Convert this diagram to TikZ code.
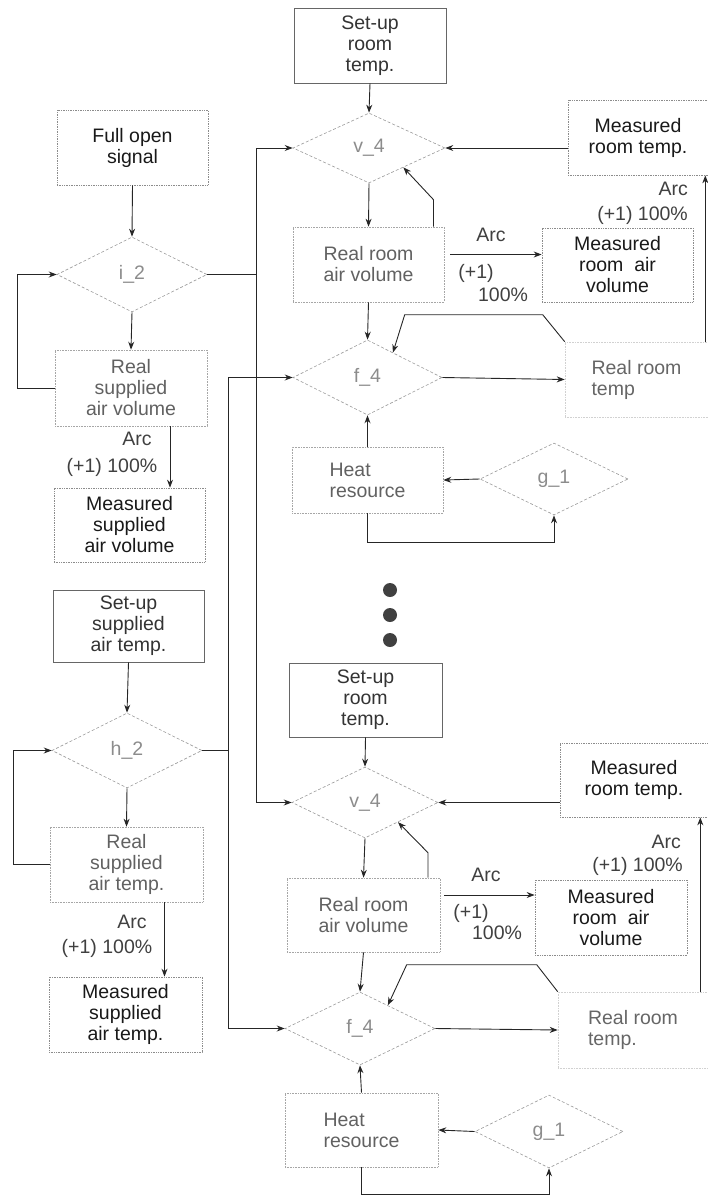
\documentclass[tikz,border=0pt]{standalone}
\usepackage{fontspec}
\setmainfont{Liberation Sans}
\usetikzlibrary{arrows.meta,shapes.geometric,calc}
\begin{document}
\begin{tikzpicture}[x=1pt,y=-1pt,
  every node/.style={font=\fontsize{19.5}{21}\selectfont, inner sep=0pt},
  boxS/.style={draw=black!60, line width=0.7pt, rectangle, align=center, text=black!80},
  boxD/.style={draw=black!45, line width=0.7pt, densely dotted, rectangle, align=center, text=black!90},
  boxR/.style={draw=black!35, line width=0.6pt, densely dotted, rectangle, align=center, text=black!62},
  boxF/.style={draw=black!18, line width=0.6pt, densely dotted, rectangle, text=black!60},
  dia/.style={diamond, draw=black!40, line width=0.6pt, densely dashed, text=black!45},
  lbl/.style={text=black!75},
  ln/.style={draw=black!85, line width=0.9pt},
  arr/.style={ln, -{Stealth[length=8pt,width=6pt]}}
]
\useasboundingbox (0,0) rectangle (708,1196);

% ---------- left column ----------
\node[boxD, minimum width=151pt, minimum height=75pt] (fullopen) at (132.5,147.5) {Full open\\signal};
\node[dia, minimum width=150pt, minimum height=75pt] (i2) at (132,274.5) {i\_2};
\node[boxR, minimum width=152pt, minimum height=76pt] (rsav) at (131,388) {Real\\supplied\\air volume};
\node[boxD, minimum width=151pt, minimum height=74pt] (msav) at (129.5,525) {Measured\\supplied\\air volume};
\node[boxS, minimum width=151pt, minimum height=72pt] (setupS) at (128.5,626) {Set-up\\supplied\\air temp.};
\node[dia, minimum width=150pt, minimum height=75pt] (h2) at (127,750.5) {h\_2};
\node[boxR, minimum width=153pt, minimum height=75pt] (rsat) at (126.5,864.5) {Real\\supplied\\air temp.};
\node[boxD, minimum width=153pt, minimum height=75pt] (msat) at (125.5,1014.5) {Measured\\supplied\\air temp.};

% ---------- top right group ----------
\node[boxS, minimum width=152pt, minimum height=75pt] (setupT) at (370,45.5) {Set-up\\room\\temp.};
\node[dia, minimum width=152pt, minimum height=70pt] (v4T) at (369,148) {v\_4};
\node[boxD, minimum width=140pt, minimum height=75pt] (measTT) at (638,137.5) {Measured\\room temp.};
\node[boxR, minimum width=151pt, minimum height=75pt] (rravT) at (368.5,264.5) {Real room\\air volume};
\node[boxD, minimum width=151pt, minimum height=74pt] (mravT) at (617.5,265) {Measured\\room\ \ air\\volume};
\node[dia, minimum width=149pt, minimum height=75pt] (f4T) at (367.5,377.5) {f\_4};
\node[boxF, minimum width=143pt, minimum height=75pt, align=left] (rrtT) at (636.5,379.5) {Real room\\temp};
\node[boxR, minimum width=151pt, minimum height=66pt, align=left] (heatT) at (367.5,480) {Heat\\resource};
\node[dia, minimum width=148pt, minimum height=72pt] (g1T) at (554,479) {g\_1};

% ---------- dots ----------
\fill[black!75] (390,590) circle[radius=7pt];
\fill[black!75] (390,615) circle[radius=7pt];
\fill[black!75] (390,640) circle[radius=7pt];

% ---------- bottom right group ----------
\node[boxS, minimum width=153pt, minimum height=74pt] (setupB) at (365.5,700) {Set-up\\room\\temp.};
\node[dia, minimum width=146pt, minimum height=71pt] (v4B) at (365,802.5) {v\_4};
\node[boxD, minimum width=148pt, minimum height=74pt] (measTB) at (634,780) {Measured\\room temp.};
\node[boxR, minimum width=153pt, minimum height=74pt] (rravB) at (363.5,915) {Real room\\air volume};
\node[boxD, minimum width=152pt, minimum height=75pt] (mravB) at (611,917.5) {Measured\\room\ \ air\\volume};
\node[dia, minimum width=150pt, minimum height=73pt] (f4B) at (360,1028.5) {f\_4};
\node[boxF, minimum width=150pt, minimum height=76pt, align=left] (rrtB) at (633,1030) {Real room\\temp.};
\node[boxR, minimum width=153pt, minimum height=74pt, align=left] (heatB) at (361.5,1130) {Heat\\resource};
\node[dia, minimum width=148pt, minimum height=73pt] (g1B) at (549,1131.5) {g\_1};

% ---------- left column connectors ----------
\draw[arr] (fullopen.south) -- (i2.north);
\draw[arr] (i2.south) -- (rsav.north);
\draw[arr] (rsav.west) -- ++(-37,0) |- (i2.west);
\draw[arr] ([xshift=39pt]rsav.south) -- ([xshift=39pt]rsav.south |- msav.north);
\node[lbl] (arcL1) at (137,439) {Arc};
\node[lbl] (pctL1) at (112,467) {(+1) 100\%};

\draw[arr] (setupS.south) -- (h2.north);
\draw[arr] (h2.south) -- (rsat.north);
\draw[arr] (rsat.west) -- ++(-36,0) |- (h2.west);
\draw[arr] ([xshift=38pt]rsat.south) -- ([xshift=38pt]rsat.south |- msat.north);
\node[lbl] (arcL2) at (132,922) {Arc};
\node[lbl] (pctL2) at (107,948) {(+1) 100\%};

% ---------- buses ----------
\coordinate (busA) at (256,0);
\coordinate (busB) at (228,0);
\draw[ln] (i2.east) -- (i2.east -| busA);
\draw[arr] (busA |- v4B.west) -- (busA |- v4T.west) -- (v4T.west);
\draw[arr] (busA |- v4B.west) -- (v4B.west);
\draw[ln] (h2.east) -- (h2.east -| busB);
\draw[arr] (busB |- f4B.west) -- (busB |- f4T.west) -- (f4T.west);
\draw[arr] (busB |- f4B.west) -- (f4B.west);

% ---------- top right connectors ----------
\draw[arr] (setupT.south) -- (v4T.north);
\draw[arr] (measTT.west |- v4T.east) -- (v4T.east);
\draw[arr] (v4T.south) -- (rravT.north);
\draw[arr] ([xshift=65pt]rravT.north) -- ++(0,-27) -- ($(v4T.south)!0.45!(v4T.east)$);
\draw[arr] ([yshift=10pt,xshift=6pt]rravT.east) -- ([yshift=10pt]rravT.east -| mravT.west);
\node[lbl] (arcT1) at (491,235) {Arc};
\node[lbl] (p1T1) at (476,273) {(+1)};
\node[lbl] (p2T1) at (503,295) {100\%};
\draw[arr] (rravT.south) -- (f4T.north);
\draw[arr] (heatT.north) -- (f4T.south);
\draw[arr] (f4T.east) -- (rrtT.west);
\draw[arr] (rrtT.north west) -- ++(-22,-27) -- ++(-138,0) -- ($(f4T.north)!0.34!(f4T.east)$);
\draw[arr] ([xshift=-3pt]rrtT.north east) -- ([xshift=-3pt]rrtT.north east |- measTT.south);
\node[lbl, anchor=east] (arcT2) at (688,189) {Arc};
\node[lbl, anchor=east] (pctT2) at (688,215) {(+1) 100\%};
\draw[arr] (g1T.west) -- (heatT.east);
\draw[arr] (heatT.south) -- ++(0,29) -| (g1T.south);

% ---------- bottom right connectors ----------
\draw[arr] (setupB.south) -- (v4B.north);
\draw[arr] (measTB.west |- v4B.east) -- (v4B.east);
\draw[arr] (v4B.south) -- (rravB.north);
\draw[arr] ([xshift=64.5pt]rravB.north) -- ++(0,-25) -- ($(v4B.south)!0.45!(v4B.east)$);
\draw[arr] ([yshift=20pt,xshift=4pt]rravB.east) -- ([yshift=20pt]rravB.east -| mravB.west);
\node[lbl] (arcB1) at (486,875) {Arc};
\node[lbl] (p1B1) at (471,913) {(+1)};
\node[lbl] (p2B1) at (497,933) {100\%};
\draw[arr] (rravB.south) -- (f4B.north);
\draw[arr] (heatB.north) -- (f4B.south);
\draw[arr] (f4B.east) -- (rrtB.west);
\draw[arr] (rrtB.north west) -- ++(-21,-27) -- ++(-130,0) -- ($(f4B.north)!0.37!(f4B.east)$);
\draw[arr] ([xshift=-8pt]rrtB.north east) -- ([xshift=-8pt]rrtB.north east |- measTB.south);
\node[lbl, anchor=east] (arcB2) at (681,842) {Arc};
\node[lbl, anchor=east] (pctB2) at (683,866) {(+1) 100\%};
\draw[arr] (g1B.west) -- (heatB.east);
\draw[arr] (heatB.south) -- ++(0,27) -| (g1B.south);
\end{tikzpicture}
\end{document}
